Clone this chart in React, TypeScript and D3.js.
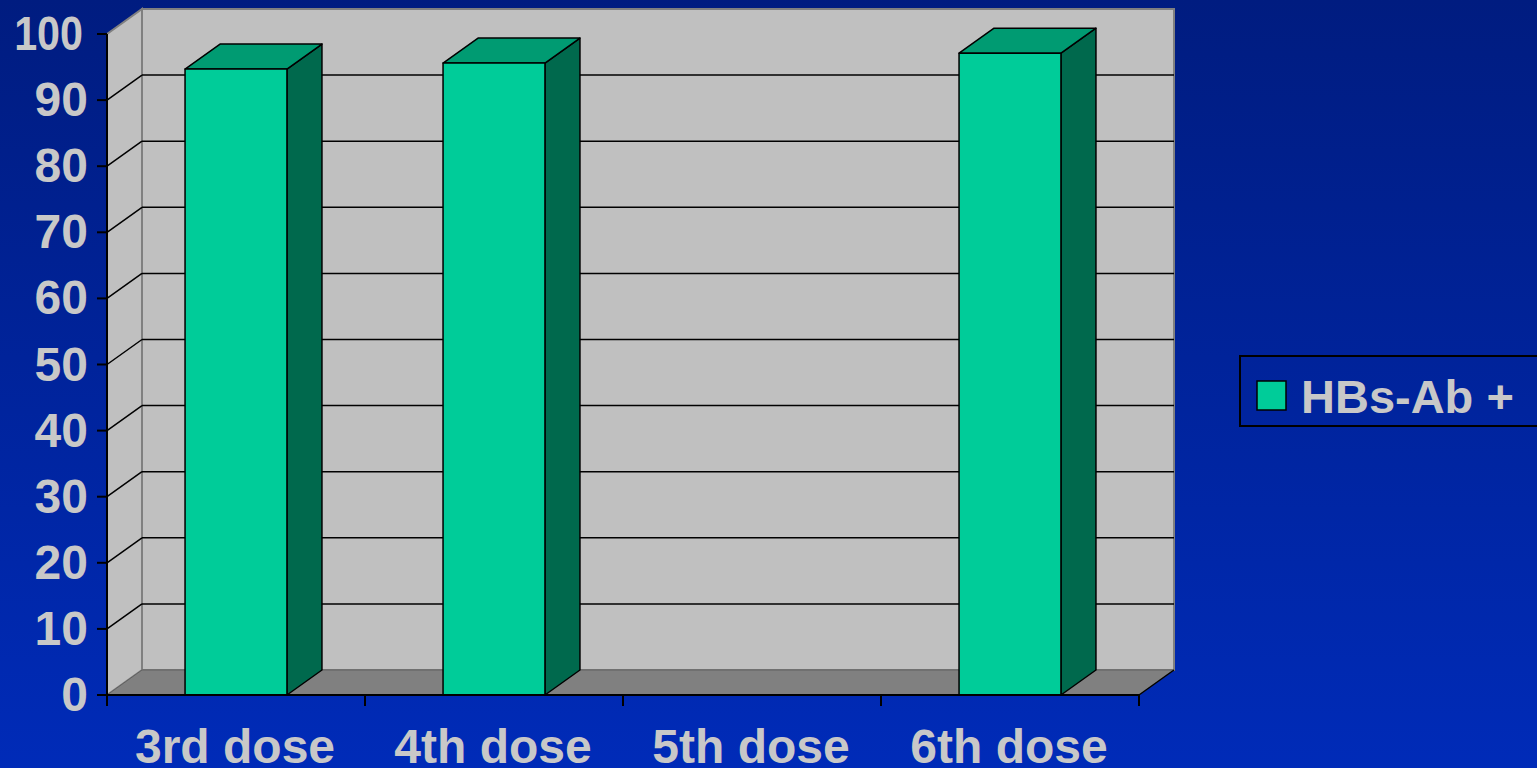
import React from "react";
import * as d3 from "d3";

const categories = ["3rd dose", "4th dose", "5th dose", "6th dose"];
const values = [94.7, 95.6, 0, 97.1];
const yTicks = [0, 10, 20, 30, 40, 50, 60, 70, 80, 90, 100];
const seriesName = "HBs-Ab +";

const W = 1537;
const H = 768;
const DX = 35;
const DY = -25;

export default function App() {
  const x = d3.scaleBand<string>().domain(categories).range([107, 1139]).padding(0);
  const y = d3.scaleLinear().domain([0, 100]).range([695, 34]);
  const barW = x.bandwidth() * 0.395;
  const y0 = y(0);
  const yTop = y(100);
  const xL = x.range()[0];
  const xR = x.range()[1];
  const font = "'Liberation Sans', Arial, sans-serif";
  const labelColor = "#c8c8c8";

  return (
    <svg width={W} height={H} style={{ position: "absolute", left: 0, top: 0 }}>
      <defs>
        <linearGradient id="bg" x1="0" y1="0" x2="0" y2="1">
          <stop offset="0" stopColor="#001c80" />
          <stop offset="1" stopColor="#002bb8" />
        </linearGradient>
      </defs>
      <rect x={0} y={0} width={W} height={H} fill="url(#bg)" />

      {/* side wall */}
      <polygon
        points={`${xL},${yTop} ${xL + DX},${yTop + DY} ${xL + DX},${y0 + DY} ${xL},${y0}`}
        fill="#c0c0c0"
        stroke="#808080"
        strokeWidth={2}
      />
      {/* back wall */}
      <rect
        x={xL + DX}
        y={yTop + DY}
        width={xR - xL}
        height={y0 - yTop}
        fill="#c0c0c0"
        stroke="#808080"
        strokeWidth={2}
      />
      {/* floor */}
      <polygon
        points={`${xL},${y0} ${xL + DX},${y0 + DY} ${xR + DX},${y0 + DY} ${xR},${y0}`}
        fill="#808080"
        stroke="#606060"
        strokeWidth={1}
      />
      <line x1={xR} y1={y0} x2={xR + DX} y2={y0 + DY} stroke="#000" strokeWidth={1.5} />

      {/* gridlines */}
      {yTicks
        .filter((t) => t > 0 && t < 100)
        .map((t) => (
          <g key={t}>
            <line x1={xL + DX} x2={xR + DX} y1={y(t) + DY} y2={y(t) + DY} stroke="#000" strokeWidth={1.5} />
            <line x1={xL} x2={xL + DX} y1={y(t)} y2={y(t) + DY} stroke="#000" strokeWidth={1.5} />
          </g>
        ))}

      {/* bars */}
      {categories.map((c, i) => {
        const v = values[i];
        if (!v) return null;
        const cx = (x(c) as number) + x.bandwidth() / 2;
        const x0 = cx - barW / 2;
        const x1 = cx + barW / 2;
        const yv = y(v);
        return (
          <g key={c} stroke="#000" strokeWidth={1.5} strokeLinejoin="round">
            <polygon
              points={`${x1},${yv} ${x1 + DX},${yv + DY} ${x1 + DX},${y0 + DY} ${x1},${y0}`}
              fill="#00694d"
            />
            <polygon
              points={`${x0},${yv} ${x0 + DX},${yv + DY} ${x1 + DX},${yv + DY} ${x1},${yv}`}
              fill="#009b72"
            />
            <rect x={x0} y={yv} width={x1 - x0} height={y0 - yv} fill="#00cc99" />
          </g>
        );
      })}

      {/* axes */}
      <line x1={xL} x2={xL} y1={yTop} y2={y0 + 1} stroke="#000" strokeWidth={2} />
      <line x1={xL - 1} x2={xR + 1} y1={y0} y2={y0} stroke="#000" strokeWidth={2} />
      {yTicks.map((t) => {
        const long = String(t).length > 2;
        return (
          <g key={t}>
            <line x1={xL - 10} x2={xL} y1={y(t)} y2={y(t)} stroke="#000" strokeWidth={2} />
            <text
              transform={`translate(${long ? 83 : 88},${y(t) + 16}) scale(${long ? 0.86 : 1},1)`}
              textAnchor="end"
              fontFamily={font}
              fontWeight="bold"
              fontSize={48}
              fill={labelColor}
            >
              {t}
            </text>
          </g>
        );
      })}
      {[...categories.map((c) => x(c) as number), xR].map((px, i) => (
        <line key={i} x1={px} x2={px} y1={y0} y2={y0 + 11} stroke="#000" strokeWidth={2} />
      ))}
      {categories.map((c) => (
        <text
          key={c}
          x={(x(c) as number) + x.bandwidth() / 2 - 1}
          y={763}
          textAnchor="middle"
          fontFamily={font}
          fontWeight="bold"
          fontSize={48}
          fill={labelColor}
        >
          {c}
        </text>
      ))}

      {/* legend */}
      <rect x={1240} y={356} width={310} height={70} fill="none" stroke="#000" strokeWidth={2} />
      <rect x={1257} y={381} width={29} height={29} fill="#00cc99" stroke="#000" strokeWidth={1.5} />
      <text x={1301} y={413} fontFamily={font} fontWeight="bold" fontSize={47} fill={labelColor}>
        {seriesName}
      </text>
    </svg>
  );
}
